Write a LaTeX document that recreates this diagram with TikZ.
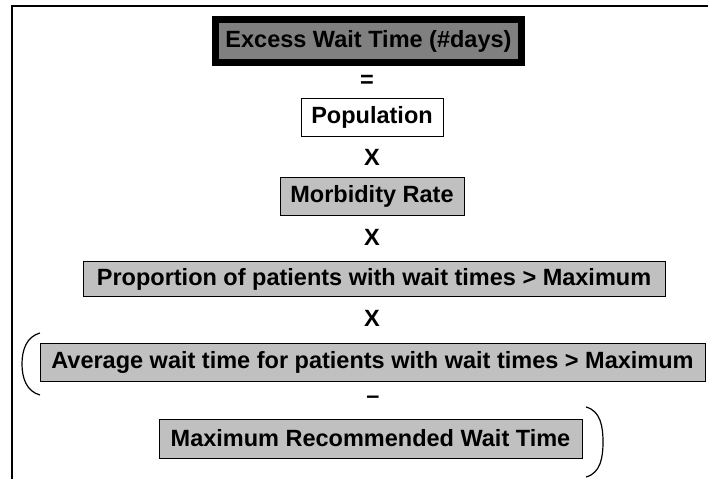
\documentclass[tikz,border=0pt]{standalone}
\usepackage{fontspec}
\setmainfont{Liberation Sans}
\definecolor{darkbox}{HTML}{808080}
\definecolor{lightbox}{HTML}{C0C0C0}
\begin{document}
\begin{tikzpicture}[x=1pt,y=-1pt,
  lbl/.style={font=\fontsize{23.5}{28}\selectfont\bfseries, inner sep=0pt},
  termbox/.style={lbl, draw=black, line width=1pt, rectangle, minimum height=38pt},
  greybox/.style={termbox, fill=lightbox},
  whitebox/.style={termbox, fill=white},
  titlebox/.style={lbl, draw=black, line width=7pt, fill=darkbox, minimum width=306pt, minimum height=43pt},
  paren/.style={draw=black, line width=1.2pt}
]
\useasboundingbox (0,0) rectangle (708,479);
% frame
\draw[line width=2.8pt] (12,479) -- (12,6) -- (708,6);

\node[titlebox] (title) at (368.5,41) {Excess Wait Time (\#days)};
\node[lbl] (eq) at (367,81) {=};
\node[whitebox, minimum width=142pt] (pop) at (372,117) {Population};
\node[lbl] (x1) at (372,157) {X};
\node[greybox, minimum width=184pt] (morb) at (372,196) {Morbidity Rate};
\node[lbl] (x2) at (372,237) {X};
\node[greybox, minimum width=582pt, minimum height=35pt] (prop) at (374,279) {Proportion of patients with wait times > Maximum};
\node[lbl] (x3) at (372,318) {X};
\node[greybox, minimum width=665pt] (avg) at (372.5,362) {Average wait time for patients with wait times > Maximum};
\node[lbl] (minus) at (373,400) {–};
\node[greybox, minimum width=423pt, minimum height=39pt] (max) at (370.5,438.5) {Maximum Recommended Wait Time};

% parentheses
\coordinate (lpt) at (40,333);
\coordinate (lpm) at (22,364);
\coordinate (lpb) at (40,395);
\draw[paren] (lpt) to[out=195,in=90] (lpm) to[out=-90,in=165] (lpb);
\coordinate (rpt) at (586,407);
\coordinate (rpm) at (603,442);
\coordinate (rpb) at (586,477);
\draw[paren] (rpt) to[out=-15,in=90] (rpm) to[out=-90,in=15] (rpb);
\end{tikzpicture}
\end{document}
